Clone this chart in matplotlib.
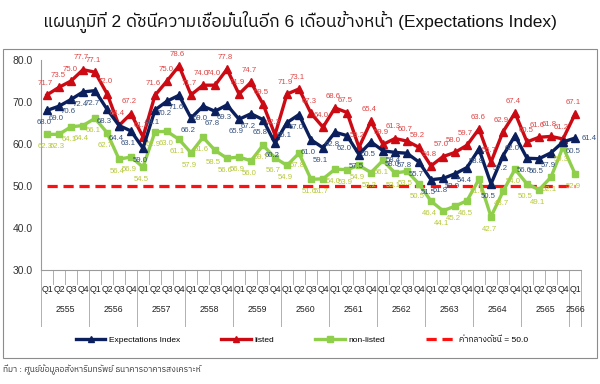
import numpy as np
import matplotlib
matplotlib.use("Agg")
import matplotlib.pyplot as plt
import matplotlib.font_manager as fm
from matplotlib.ft2font import FT2Font
from matplotlib.lines import Line2D
from matplotlib.patches import Rectangle
import matplotlib.transforms as mtransforms

# ---------------- data ----------------
years = ["2555", "2556", "2557", "2558", "2559", "2560", "2561",
         "2562", "2563", "2564", "2565", "2566"]
quarters = ["Q1", "Q2", "Q3", "Q4"] * 11 + ["Q1"]

expectations = [68.0, 69.0, 70.6, 72.4, 72.7, 68.3, 64.4, 63.1, 59.0, 68.1,
                70.2, 71.6, 66.2, 69.0, 67.8, 69.3, 65.9, 67.2, 65.8, 60.2,
                65.1, 67.0, 61.0, 59.1, 62.8, 62.0, 57.5, 60.5, 58.4, 58.0,
                57.8, 55.7, 51.5, 51.8, 52.9, 54.4, 58.8, 50.5, 57.2, 62.0,
                56.6, 56.5, 57.9, 60.5, 61.4]
listed = [71.7, 73.5, 75.0, 77.7, 77.1, 72.0, 64.4, 67.2, 61.7, 71.6,
          75.0, 78.6, 71.7, 74.0, 74.0, 77.8, 71.9, 74.7, 69.5, 62.2,
          71.9, 73.1, 67.3, 64.0, 68.6, 67.5, 59.2, 65.4, 59.9, 61.3,
          60.7, 59.2, 54.8, 57.0, 58.0, 59.7, 63.6, 55.7, 62.9, 67.4,
          60.5, 61.6, 61.8, 61.2, 67.1]
non_listed = [62.3, 62.3, 64.1, 64.4, 66.1, 62.7, 56.4, 56.9, 54.5, 62.9,
              63.0, 61.1, 57.9, 61.6, 58.5, 56.6, 56.9, 56.0, 59.7, 56.7,
              54.9, 57.8, 51.6, 51.7, 54.0, 53.9, 54.9, 53.2, 56.1, 53.1,
              53.5, 50.5, 46.4, 44.1, 45.2, 46.5, 51.6, 42.7, 48.7, 54.0,
              50.5, 49.1, 52.1, 59.3, 52.9]
midpoint = 50.0

series_names = ["Expectations Index", "listed", "non-listed"]
mid_name = "ค่ากลางดัชนี = 50.0"
title = "แผนภูมิที่ 2 ดัชนีความเชื่อมั่นในอีก 6 เดือนข้างหน้า (Expectations Index)"
source = "ที่มา : ศูนย์ข้อมูลอสังหาริมทรัพย์ ธนาคารอาคารสงเคราะห์"
yticks = [30.0, 40.0, 50.0, 60.0, 70.0, 80.0]

# ---------------- fonts ----------------
def find_thai():
    best = None
    for f in fm.fontManager.ttflist:
        try:
            cm = FT2Font(f.fname).get_charmap()
        except Exception:
            continue
        if 0x0E01 in cm and 0x0E35 in cm and 0x0E48 in cm:
            if "sans" in f.name.lower() or best is None:
                best = f.name
                if "sans" in f.name.lower():
                    break
    return best

thai = find_thai()
latin = "Liberation Sans"
fam = [latin] + ([thai] if thai else []) + ["DejaVu Sans"]
plt.rcParams["font.family"] = fam

# ---------------- figure ----------------
W, H = 600, 384
fig = plt.figure(figsize=(W / 100, H / 100), dpi=100)
fig.patch.set_facecolor("white")

ax_l, ax_r, ax_t, ax_b = 41, 581, 60, 270
ax = fig.add_axes([ax_l / W, 1 - ax_b / H, (ax_r - ax_l) / W, (ax_b - ax_t) / H])

n = len(expectations)
x = np.arange(n)

c_blue, c_red, c_green = "#0a1f5c", "#cc0a14", "#8fcf4c"
lc_blue, lc_red, lc_green = "#34507e", "#e04545", "#b6c935"
c_mid = "#ff1010"
lw = 2.4

ax.plot(x, [midpoint] * n, color=c_mid, lw=2.3, ls=(0, (3.2, 1.8)), zorder=2)
ax.plot(x, expectations, color=c_blue, lw=lw, marker="^", ms=5.2, zorder=4)
ax.plot(x, listed, color=c_red, lw=lw, marker="^", ms=5.2, zorder=3)
ax.plot(x, non_listed, color=c_green, lw=lw, marker="s", ms=4.0, zorder=3)

lab_fs = 5.6
for xi, v in zip(x, listed):
    ax.annotate(f"{v:.1f}", (xi, v), xytext=(-1, 8.5), textcoords="offset points",
                ha="center", va="center", fontsize=lab_fs, color=lc_red,
                annotation_clip=False, zorder=6)
for xi, v, r, g in zip(x, expectations, listed, non_listed):
    if xi == n - 1:
        off, ha = (5, 0), "left"
    elif (r - v) < 2.5 and (v - g) < 2.5:
        off, ha = (2, -7), "left"
    elif (v - g) >= (r - v):
        off, ha = (-2, -9), "center"
    else:
        off, ha = (-2, 9), "center"
    ax.annotate(f"{v:.1f}", (xi, v), xytext=off, textcoords="offset points",
                ha=ha, va="center", fontsize=lab_fs, color=lc_blue,
                annotation_clip=False, zorder=6)
for xi, v in zip(x, non_listed):
    ax.annotate(f"{v:.1f}", (xi, v), xytext=(-1, -9), textcoords="offset points",
                ha="center", va="center", fontsize=lab_fs, color=lc_green,
                annotation_clip=False, zorder=6)

ax.set_xlim(-0.5, n - 0.5)
ax.set_ylim(30, 80)
ax.set_yticks(yticks)
ax.set_yticklabels([f"{t:.1f}" for t in yticks], fontsize=7.5, color="#333333")
ax.tick_params(axis="y", length=0, pad=6)

for s in ["top", "right"]:
    ax.spines[s].set_visible(False)
ax.spines["left"].set_color("#9a9a9a")
ax.spines["bottom"].set_color("#9a9a9a")
ax.spines["left"].set_linewidth(0.8)
ax.spines["bottom"].set_linewidth(0.8)

# category axis
ax.set_xticks([])
trans = mtransforms.blended_transform_factory(ax.transData, ax.transAxes)
axh = ax_b - ax_t
for b in np.arange(n + 1) - 0.5:
    ax.plot([b, b], [0, -14 / axh], transform=trans, color="#b0b0b0", lw=0.7, clip_on=False)
for k in range(len(years) + 1):
    b = min(4 * k, n) - 0.5
    ax.plot([b, b], [0, -56 / axh], transform=trans, color="#b0b0b0", lw=0.7, clip_on=False)
for xi, q in zip(x, quarters):
    ax.text(xi, -20 / axh, q, transform=trans, ha="center", va="center",
            fontsize=6.3, color="#222222")
for k, yr in enumerate(years):
    lo = 4 * k
    hi = min(4 * k + 3, n - 1)
    ax.text((lo + hi) / 2, -40 / axh, yr, transform=trans, ha="center", va="center",
            fontsize=6.3, color="#222222")

# title
fig.text(0.5, 1 - 22 / H, title, ha="center", va="center", fontsize=12.5, color="#111111")

# border
fig.patches.append(Rectangle((3 / W, 1 - 358 / H), 594 / W, 309 / H, transform=fig.transFigure,
                             fill=False, edgecolor="#8c8c8c", lw=0.8))

# legend
handles = [
    Line2D([], [], color=c_blue, lw=lw, marker="^", ms=5.0),
    Line2D([], [], color=c_red, lw=lw, marker="^", ms=5.0),
    Line2D([], [], color=c_green, lw=lw, marker="s", ms=3.8),
    Line2D([], [], color=c_mid, lw=2.3, ls=(0, (3.2, 1.8))),
]
fig.legend(handles, series_names + [mid_name], loc="center", ncol=4,
           bbox_to_anchor=(302 / W, 1 - 340 / H), frameon=False, fontsize=6,
           handlelength=3.5, columnspacing=5.0, handletextpad=0.4, markerscale=1.0)

fig.text(3 / W, 1 - 370 / H, source, ha="left", va="center", fontsize=6, color="#333333")

fig.savefig("out.png", dpi=100, facecolor="white")
